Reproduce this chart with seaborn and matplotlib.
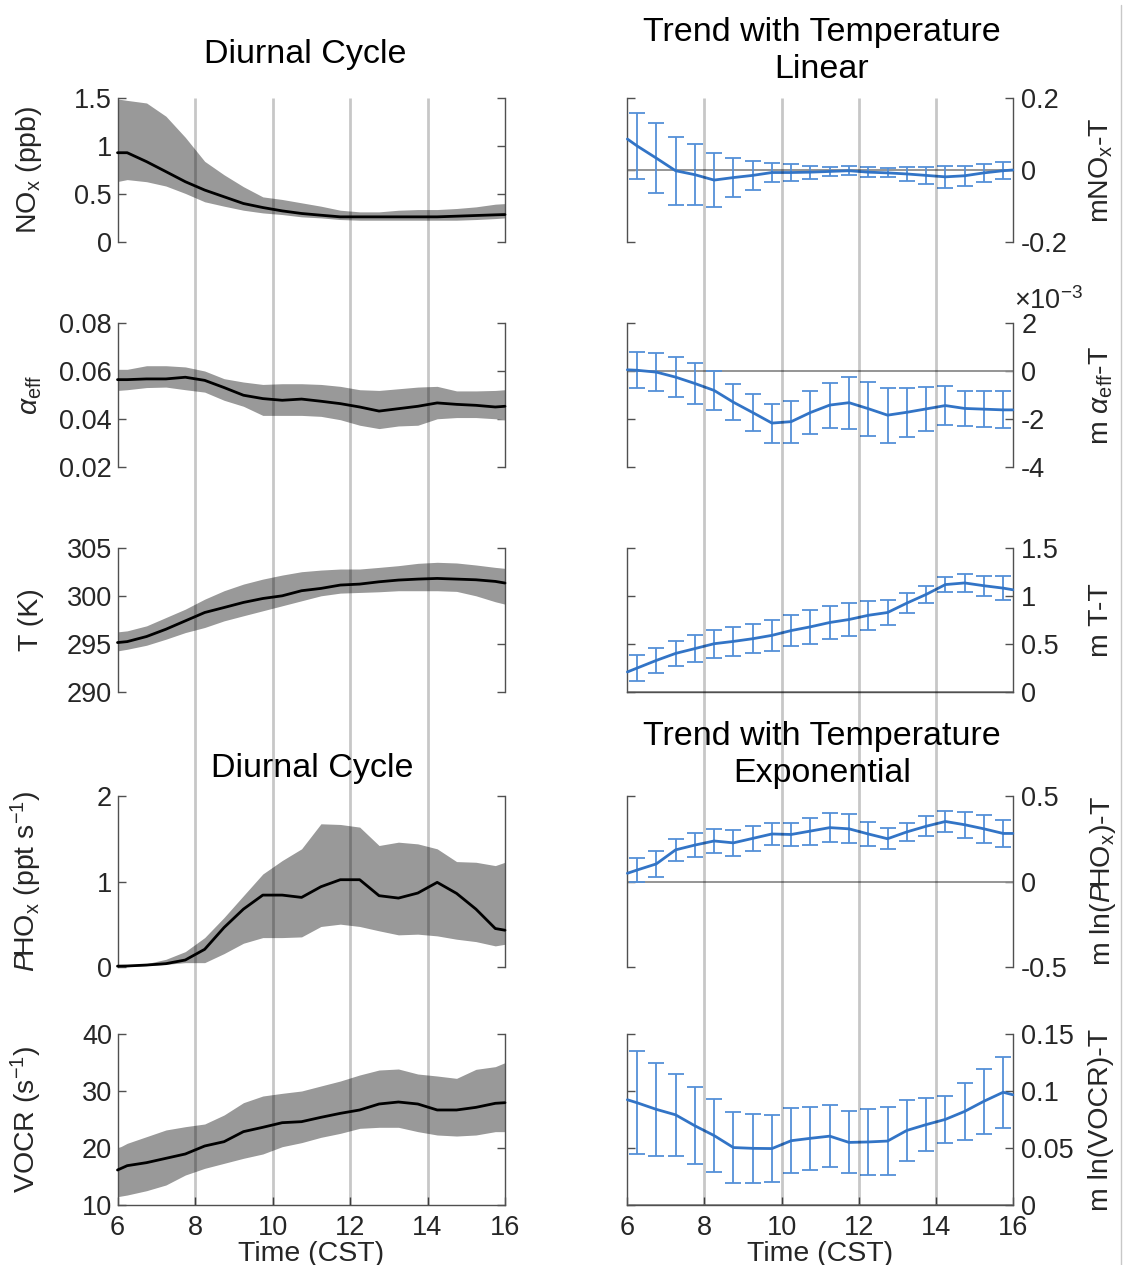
import matplotlib
matplotlib.use("Agg")
import matplotlib.pyplot as plt
from matplotlib.lines import Line2D
from matplotlib.ticker import FuncFormatter
import numpy as np
import pandas as pd
import seaborn as sns

# ---------------------------------------------------------------- data
# Line vertices: day start/end plus half-hour bin centres (CST)
hours = [6.0, 6.25, 6.75, 7.25, 7.75, 8.25, 8.75, 9.25, 9.75, 10.25, 10.75,
         11.25, 11.75, 12.25, 12.75, 13.25, 13.75, 14.25, 14.75, 15.25, 15.75, 16.0]
bin_hours = hours[1:-1]
grid_hours = [8, 10, 12, 14]

# Diurnal cycle: median with lower/upper band
nox_med = [0.93, 0.93, 0.837, 0.733, 0.628, 0.541, 0.471, 0.401, 0.359, 0.324, 0.297,
           0.279, 0.262, 0.262, 0.262, 0.262, 0.262, 0.262, 0.269, 0.276, 0.283, 0.286]
nox_hi = [1.49, 1.475, 1.448, 1.31, 1.09, 0.84, 0.70, 0.576, 0.47, 0.443, 0.408,
          0.373, 0.331, 0.314, 0.314, 0.331, 0.338, 0.338, 0.349, 0.366, 0.394, 0.40]
nox_lo = [0.63, 0.65, 0.628, 0.583, 0.506, 0.419, 0.373, 0.331, 0.303, 0.286, 0.262,
          0.251, 0.234, 0.227, 0.227, 0.227, 0.227, 0.227, 0.227, 0.234, 0.244, 0.251]

alpha_med = [0.0564, 0.0564, 0.0567, 0.0567, 0.0574, 0.0561, 0.0531, 0.0499, 0.0485, 0.0478, 0.0483,
             0.0474, 0.0464, 0.0450, 0.0433, 0.0443, 0.0453, 0.0467, 0.0461, 0.0457, 0.0450, 0.0453]
alpha_hi = [0.0607, 0.0607, 0.0622, 0.0622, 0.0617, 0.0600, 0.0568, 0.0554, 0.0544, 0.0547, 0.0547,
            0.0544, 0.0536, 0.0522, 0.0519, 0.0526, 0.0533, 0.0536, 0.0517, 0.0517, 0.0519, 0.0522]
alpha_lo = [0.0519, 0.0522, 0.0531, 0.0533, 0.0522, 0.0512, 0.0478, 0.0453, 0.0415, 0.0415, 0.0415,
            0.0411, 0.0397, 0.0374, 0.0360, 0.0371, 0.0374, 0.0401, 0.0406, 0.0406, 0.0401, 0.0397]

temp_med = [295.15, 295.25, 295.78, 296.54, 297.41, 298.28, 298.80, 299.33, 299.74, 300.02, 300.55,
            300.79, 301.14, 301.24, 301.48, 301.66, 301.76, 301.83, 301.76, 301.69, 301.52, 301.35]
temp_hi = [296.26, 296.37, 296.89, 297.76, 298.63, 299.67, 300.55, 301.24, 301.76, 302.18, 302.53,
           302.70, 302.81, 302.81, 302.98, 303.16, 303.40, 303.51, 303.44, 303.23, 302.98, 302.88]
temp_lo = [294.28, 294.45, 294.87, 295.50, 296.19, 296.72, 297.41, 297.94, 298.46, 298.98, 299.50,
           300.02, 300.30, 300.37, 300.44, 300.55, 300.55, 300.55, 300.48, 300.02, 299.40, 299.15]

phox_med = [0.010, 0.012, 0.023, 0.039, 0.082, 0.207, 0.462, 0.677, 0.841, 0.841, 0.814,
            0.939, 1.021, 1.021, 0.834, 0.806, 0.865, 0.990, 0.861, 0.677, 0.450, 0.430]
phox_hi = [0.012, 0.020, 0.039, 0.090, 0.180, 0.344, 0.579, 0.834, 1.088, 1.245, 1.382,
           1.675, 1.667, 1.636, 1.421, 1.460, 1.440, 1.382, 1.233, 1.225, 1.186, 1.225]
phox_lo = [0.000, 0.004, 0.016, 0.031, 0.051, 0.051, 0.157, 0.278, 0.344, 0.344, 0.352,
           0.474, 0.501, 0.474, 0.423, 0.376, 0.384, 0.364, 0.325, 0.297, 0.247, 0.266]

vocr_med = [16.14, 16.90, 17.43, 18.19, 18.95, 20.35, 21.11, 22.87, 23.63, 24.44, 24.62,
            25.38, 26.08, 26.67, 27.72, 28.07, 27.72, 26.67, 26.67, 27.13, 27.84, 27.95]
vocr_hi = [19.94, 20.82, 21.99, 23.16, 23.74, 24.21, 25.79, 27.95, 29.12, 29.59, 30.00,
           30.88, 31.75, 32.81, 33.68, 33.86, 32.98, 32.63, 32.22, 33.80, 34.27, 34.97]
vocr_lo = [11.46, 11.75, 12.51, 13.51, 15.26, 16.43, 17.31, 18.19, 18.95, 20.23, 20.94,
           21.87, 22.57, 23.45, 23.63, 23.63, 22.87, 22.28, 22.10, 22.28, 22.87, 22.87]

# Temperature slopes (line vertices) and 1-sigma errors at bin centres
m_nox = [0.086, 0.067, 0.033, -0.002, -0.013, -0.028, -0.021, -0.015, -0.007, -0.007, -0.006,
         -0.004, -0.002, -0.006, -0.008, -0.011, -0.015, -0.019, -0.016, -0.008, -0.002, 0.0]
m_nox_err = [0.091, 0.098, 0.095, 0.085, 0.074, 0.053, 0.040, 0.026, 0.023, 0.018,
             0.013, 0.012, 0.013, 0.0125, 0.019, 0.024, 0.030, 0.028, 0.025, 0.023]

m_alpha_e3 = [0.05, 0.03, -0.046, -0.255, -0.52, -0.81, -1.30, -1.73, -2.17, -2.11, -1.73,
              -1.42, -1.32, -1.57, -1.84, -1.72, -1.58, -1.44, -1.56, -1.59, -1.62, -1.62]
m_alpha_err_e3 = [0.745, 0.78, 0.82, 0.835, 0.82, 0.75, 0.77, 0.81, 0.87, 0.90,
                  0.94, 1.08, 1.13, 1.15, 1.01, 0.92, 0.82, 0.73, 0.74, 0.77]

m_temp = [0.209, 0.249, 0.329, 0.402, 0.452, 0.503, 0.527, 0.555, 0.590, 0.640, 0.679,
          0.724, 0.755, 0.799, 0.828, 0.926, 1.016, 1.119, 1.136, 1.107, 1.082, 1.065]
m_temp_err = [0.134, 0.134, 0.130, 0.139, 0.144, 0.151, 0.151, 0.162, 0.160, 0.174,
              0.174, 0.171, 0.151, 0.132, 0.104, 0.090, 0.075, 0.092, 0.104, 0.122]

m_lnphox = [0.048, 0.067, 0.103, 0.185, 0.213, 0.237, 0.226, 0.252, 0.278, 0.275, 0.295,
            0.315, 0.308, 0.278, 0.250, 0.290, 0.323, 0.351, 0.332, 0.308, 0.281, 0.281]
m_lnphox_err = [0.072, 0.075, 0.066, 0.068, 0.069, 0.078, 0.073, 0.065, 0.068, 0.079,
                0.086, 0.085, 0.071, 0.060, 0.052, 0.058, 0.061, 0.075, 0.080, 0.078]

m_lnvocr = [0.0923, 0.0897, 0.0839, 0.0791, 0.0695, 0.0609, 0.0504, 0.0497, 0.0495, 0.0564, 0.0585,
            0.0604, 0.0549, 0.0553, 0.0561, 0.0654, 0.0705, 0.0751, 0.0821, 0.0910, 0.0989, 0.0967]
m_lnvocr_err = [0.0454, 0.0405, 0.0357, 0.0339, 0.0320, 0.0309, 0.0301, 0.0294, 0.0287, 0.0274,
                0.0269, 0.0272, 0.0291, 0.0299, 0.0269, 0.0233, 0.0207, 0.0248, 0.0284, 0.0313]

# axis labels, limits and ticks
left_labels = [r'NO$_\mathregular{x}$ (ppb)', r'$\alpha_\mathregular{eff}$', 'T (K)',
               r'$P\!$HO$_\mathregular{x}$ (ppt s$^\mathregular{-1}$)', r'VOCR (s$^\mathregular{-1}$)']
right_labels = [r'mNO$_\mathregular{x}$-T', r'm $\alpha_\mathregular{eff}$-T', 'm T-T',
                r'm ln($P\!$HO$_\mathregular{x}$)-T', 'm ln(VOCR)-T']
left_ticks = [[0, 0.5, 1, 1.5], [0.02, 0.04, 0.06, 0.08], [290, 295, 300, 305],
              [0, 1, 2], [10, 20, 30, 40]]
right_ticks = [[-0.2, 0, 0.2], [-4, -2, 0, 2], [0, 0.5, 1, 1.5],
               [-0.5, 0, 0.5], [0, 0.05, 0.1, 0.15]]
x_ticks = [6, 8, 10, 12, 14, 16]

diurnal = [(nox_med, nox_lo, nox_hi), (alpha_med, alpha_lo, alpha_hi),
           (temp_med, temp_lo, temp_hi), (phox_med, phox_lo, phox_hi),
           (vocr_med, vocr_lo, vocr_hi)]
trends = [(m_nox, m_nox_err), (m_alpha_e3, m_alpha_err_e3), (m_temp, m_temp_err),
          (m_lnphox, m_lnphox_err), (m_lnvocr, m_lnvocr_err)]

# ---------------------------------------------------------------- style
sns.set_theme(style="white")
plt.rcParams.update({
    "font.family": ["Liberation Sans", "DejaVu Sans"],
    "mathtext.fontset": "custom",
    "mathtext.rm": "Liberation Sans",
    "mathtext.it": "Liberation Sans:italic",
    "mathtext.bf": "Liberation Sans:bold",
    "axes.unicode_minus": False,
})

W, H = 1124, 1265
fig = plt.figure(figsize=(W / 100, H / 100), dpi=100)
fig.patch.set_facecolor("white")

SPINE = "#505050"
TXT = "#262626"
BLUE = "#3274C6"
BLUE_ERR = "#5490D8"
BAND = "#999999"
TICK_FS = 19.5
LABEL_FS = 20.5
TITLE_FS = 24.5

left_x0, left_x1 = 117.5, 505.0
right_x0, right_x1 = 627.4, 1012.8
rows = [(98, 242), (323, 467), (548, 692), (796, 967), (1034, 1205)]


def add_ax(x0, x1, top, bottom):
    return fig.add_axes([x0 / W, 1 - bottom / H, (x1 - x0) / W, (bottom - top) / H])


def fmt(v, _):
    return f"{v:g}"


def style_axis(ax, ticks, side, last):
    ax.set_facecolor("none")
    ax.set_xlim(6, 16)
    ax.set_ylim(ticks[0], ticks[-1])
    ax.set_yticks(ticks)
    ax.yaxis.set_major_formatter(FuncFormatter(fmt))
    ax.spines["top"].set_visible(False)
    for s in ["left", "right", "bottom"]:
        ax.spines[s].set_color(SPINE)
        ax.spines[s].set_linewidth(1.0)
    ax.tick_params(axis="y", which="both", direction="in", left=True, right=True,
                   labelleft=(side == "left"), labelright=(side == "right"),
                   length=6, width=1, color=SPINE, labelcolor=TXT, labelsize=TICK_FS,
                   pad=4 if side == "left" else 6)
    if last:
        ax.set_xticks(x_ticks)
        ax.xaxis.set_major_formatter(FuncFormatter(fmt))
        ax.tick_params(axis="x", direction="in", bottom=True, length=6, width=1,
                       color=SPINE, labelcolor=TXT, labelsize=TICK_FS, pad=7.5)
    else:
        ax.tick_params(axis="x", bottom=False, labelbottom=False)


# ---------------------------------------------------------------- diurnal cycle
for i, ((top, bottom), (med, lo, hi)) in enumerate(zip(rows, diurnal)):
    ax = add_ax(left_x0, left_x1, top, bottom)
    style_axis(ax, left_ticks[i], "left", i == 4)
    if i < 4:
        ax.spines["bottom"].set_visible(False)
    ax.fill_between(hours, lo, hi, color=BAND, linewidth=0, zorder=1)
    df = pd.DataFrame({"hour": hours, "value": med})
    sns.lineplot(data=df, x="hour", y="value", ax=ax, color="black", linewidth=2.0,
                 zorder=3, clip_on=False)
    ax.set_xlabel("Time (CST)" if i == 4 else "", fontsize=LABEL_FS, color=TXT,
                  labelpad=0)
    ax.set_ylabel(left_labels[i], fontsize=LABEL_FS, color=TXT)
    ax.yaxis.set_label_coords(-0.19, 0.5)
    ax.set_xlim(6, 16)
    ax.set_ylim(left_ticks[i][0], left_ticks[i][-1])

# ---------------------------------------------------------------- temperature trends
for i, ((top, bottom), (m, err)) in enumerate(zip(rows, trends)):
    ax = add_ax(right_x0, right_x1, top, bottom)
    style_axis(ax, right_ticks[i], "right", i == 4)
    if i not in (2, 4):
        ax.spines["bottom"].set_visible(False)
    ax.axhline(0, color="#8c8c8c", linewidth=1.3, zorder=1)
    ax.errorbar(bin_hours, m[1:-1], yerr=err, fmt="none", ecolor=BLUE_ERR,
                elinewidth=1.3, capsize=6, capthick=1.3, zorder=2)
    df = pd.DataFrame({"hour": hours, "slope": m})
    sns.lineplot(data=df, x="hour", y="slope", ax=ax, color=BLUE, linewidth=2.0,
                 zorder=3, clip_on=False)
    ax.set_xlabel("Time (CST)" if i == 4 else "", fontsize=LABEL_FS, color=TXT,
                  labelpad=0)
    ax.set_ylabel(right_labels[i], fontsize=LABEL_FS, color=TXT, rotation=90)
    ax.yaxis.set_label_position("right")
    ax.yaxis.set_label_coords(1.195, 0.5)
    ax.set_xlim(6, 16)
    ax.set_ylim(right_ticks[i][0], right_ticks[i][-1])

# exponent of the alpha_eff slope axis
fig.text(1014 / W, 1 - 301 / H, r"$\times$10$^\mathregular{-3}$", fontsize=TICK_FS,
         color=TXT, ha="left", va="center")

# ---------------------------------------------------------------- hour grid across panels
for x0, x1 in [(left_x0, left_x1), (right_x0, right_x1)]:
    gax = add_ax(x0, x1, 98, 1205)
    gax.set_xlim(6, 16)
    gax.set_ylim(0, 1)
    gax.axis("off")
    gax.set_zorder(10)
    gax.vlines(grid_hours, 0, 1, color="black", alpha=0.22, linewidth=2.0)

# ---------------------------------------------------------------- titles
fig.text(305 / W, 1 - 55 / H, "Diurnal Cycle", fontsize=TITLE_FS, color="black",
         ha="center", va="center")
fig.text(822 / W, 1 - 51 / H, "Trend with Temperature\nLinear", fontsize=TITLE_FS,
         color="black", ha="center", va="center", linespacing=1.22)
fig.text(312 / W, 1 - 768 / H, "Diurnal Cycle", fontsize=TITLE_FS, color="black",
         ha="center", va="center")
fig.text(822 / W, 1 - 755 / H, "Trend with Temperature\nExponential", fontsize=TITLE_FS,
         color="black", ha="center", va="center", linespacing=1.22)

# frame edge on the right
fig.add_artist(Line2D([1120.5 / W, 1120.5 / W], [0, 1 - 5 / H], color="#c8c8c8",
                      linewidth=1.0))

fig.savefig("out.png", dpi=100, facecolor="white")
